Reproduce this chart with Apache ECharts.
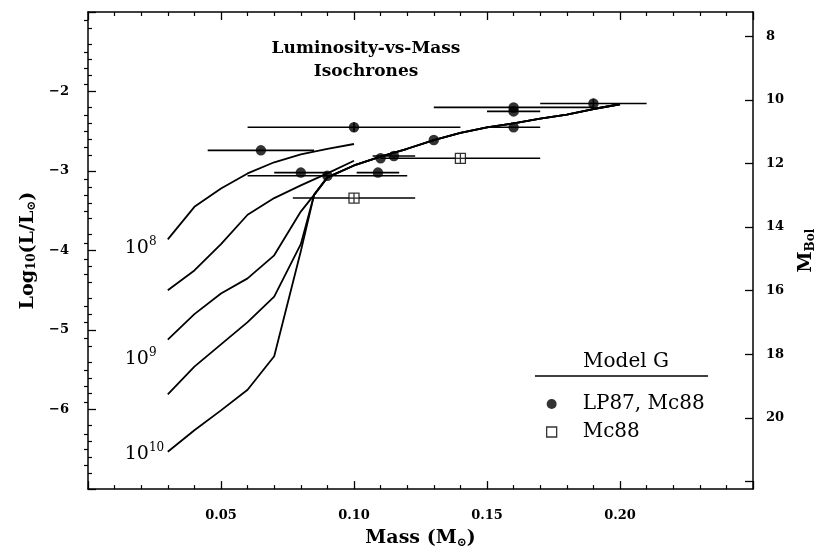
<!DOCTYPE html>
<html>
<head>
<meta charset="utf-8">
<script src="https://cdn.jsdelivr.net/npm/echarts@6/dist/echarts.min.js"></script>
<style>
  html, body { margin: 0; padding: 0; background: #ffffff; }
  #chart { width: 825px; height: 554px; }
</style>
</head>
<body>
<div id="chart"></div>
<script>
// ---- Isochrones: stellar mass (M_sun) vs log10(L/L_sun) ----
const iso1e8Mass = [0.03, 0.04, 0.05, 0.06, 0.07, 0.08, 0.09, 0.10];
const iso1e8Lum  = [-3.86, -3.45, -3.22, -3.03, -2.89, -2.79, -2.72, -2.66];

const iso3e8Mass = [0.03, 0.04, 0.05, 0.06, 0.07, 0.08, 0.09, 0.10];
const iso3e8Lum  = [-4.50, -4.25, -3.92, -3.55, -3.34, -3.18, -3.03, -2.87];

const iso1e9Mass = [0.03, 0.04, 0.05, 0.06, 0.07, 0.08];
const iso1e9Lum  = [-5.12, -4.80, -4.54, -4.35, -4.06, -3.51];

const iso3e9Mass = [0.03, 0.04, 0.05, 0.06, 0.07, 0.08];
const iso3e9Lum  = [-5.81, -5.46, -5.18, -4.90, -4.58, -3.92];

const iso1e10Mass = [0.03, 0.04, 0.05, 0.06, 0.07, 0.08];
const iso1e10Lum  = [-6.53, -6.26, -6.01, -5.75, -5.33, -4.01];

// common upper branch shared by the older isochrones
const branchMass = [0.085, 0.09, 0.10, 0.11, 0.12, 0.13, 0.14, 0.15, 0.16, 0.17, 0.18, 0.19, 0.20];
const branchLum  = [-3.30, -3.08, -2.93, -2.82, -2.72, -2.61, -2.52, -2.45, -2.40, -2.34, -2.29, -2.22, -2.16];

// ---- Observed objects ----
// LP87, Mc88 (filled circles)
const lpMass    = [0.065, 0.10, 0.08, 0.09, 0.109, 0.11, 0.115, 0.13, 0.16, 0.16, 0.16, 0.19];
const lpLum     = [-2.74, -2.45, -3.02, -3.06, -3.02, -2.84, -2.81, -2.61, -2.45, -2.20, -2.25, -2.15];
const lpMassErr = [0.02, 0.04, 0.01, 0.03, 0.008, 0, 0.008, 0, 0.01, 0.03, 0.01, 0.02];
const lpLumErr  = [0, 0.06, 0, 0, 0, 0, 0, 0, 0, 0, 0, 0.06];
// Mc88 (open squares)
const mcMass    = [0.10, 0.14];
const mcLum     = [-3.34, -2.84];
const mcMassErr = [0.023, 0.03];
const mcLumErr  = [0, 0];

// ---- Axis ticks ----
const massTicks = [0.05, 0.10, 0.15, 0.20];
const lumTicks  = [-2, -3, -4, -5, -6];
const mbolLabels = [8, 10, 12, 14, 16, 18, 20];
const mbolMajorTicks = [8, 10, 12, 14, 16, 18, 20, 22];
const MBOL_SUN = 4.74;   // M_bol = 4.74 - 2.5 log10(L/L_sun)

const SERIF = 'DejaVu Serif';
const INK = '#000000';

function zip(a, b) { return a.map((v, i) => [v, b[i]]); }
function zip4(a, b, c, d) { return a.map((v, i) => [v, b[i], c[i], d[i]]); }

// half-magnitude minor ticks on the M_bol scale (skip the even majors)
const mbolMinorTicks = [];
for (let k = 15; k <= 44; k++) {
  const v = k / 2;
  if (v % 2 !== 0) mbolMinorTicks.push(v);
}

const lumMin = -7, lumMax = -1;

const curveLabelRich = {
  n: { fontFamily: SERIF, fontSize: 19, color: INK, verticalAlign: 'bottom', lineHeight: 22 },
  p: { fontFamily: SERIF, fontSize: 12, color: INK, verticalAlign: 'top', lineHeight: 12 }
};

function isoSeries(name, mass, lum, labelText, labelOffsetY) {
  const data = zip(mass, lum);
  if (labelText) {
    // age label placed just left of the low-mass end of the track
    data[0] = {
      value: data[0],
      symbol: 'circle',
      symbolSize: 0.1,
      label: {
        show: true,
        position: 'left',
        distance: 43,
        align: 'left',
        verticalAlign: 'middle',
        offset: [0, labelOffsetY],
        formatter: labelText,
        rich: curveLabelRich
      }
    };
  }
  return {
    name: name,
    type: 'line',
    xAxisIndex: 0,
    yAxisIndex: 0,
    data: data,
    showSymbol: true,
    symbol: 'none',
    smooth: false,
    silent: true,
    itemStyle: { color: INK },
    lineStyle: { color: INK, width: 1.8 },
    z: 2
  };
}

function errorBarRender(params, api) {
  const m = api.value(0), L = api.value(1), ex = api.value(2), ey = api.value(3);
  const kids = [];
  if (ex > 0) {
    const a = api.coord([m - ex, L]);
    const b = api.coord([m + ex, L]);
    kids.push({ type: 'line', shape: { x1: a[0], y1: a[1], x2: b[0], y2: b[1] },
                style: { stroke: INK, lineWidth: 1.6 } });
  }
  if (ey > 0) {
    const a = api.coord([m, L - ey]);
    const b = api.coord([m, L + ey]);
    kids.push({ type: 'line', shape: { x1: a[0], y1: a[1], x2: b[0], y2: b[1] },
                style: { stroke: INK, lineWidth: 1.6 } });
  }
  return { type: 'group', children: kids };
}

const axisLineStyle = { color: INK, width: 1.5 };
const nameRich = {
  b: { fontFamily: SERIF, fontSize: 19, fontWeight: 'bold', color: INK, verticalAlign: 'top', lineHeight: 20 },
  s: { fontFamily: SERIF, fontSize: 12, fontWeight: 'bold', color: INK, verticalAlign: 'bottom', lineHeight: 12, padding: [10, 0, 0, 0] }
};
const tickFont = { fontFamily: SERIF, fontSize: 13, fontWeight: 'bold', color: INK };

function massAxis(position, showLabels) {
  return {
    type: 'value',
    position: position,
    min: 0,
    max: 0.25,
    interval: 0.05,
    axisLine: { show: true, onZero: false, lineStyle: axisLineStyle },
    axisTick: { show: true, inside: true, length: 8, lineStyle: { color: INK, width: 1.3 } },
    minorTick: { show: true, splitNumber: 5, length: 4, lineStyle: { color: INK, width: 1.2 } },
    splitLine: { show: false },
    minorSplitLine: { show: false },
    axisLabel: {
      show: showLabels,
      margin: 20,
      ...tickFont,
      formatter: v => massTicks.some(t => Math.abs(t - v) < 1e-6) ? v.toFixed(2) : ''
    },
    name: showLabels ? '{b|Mass (M}{s|\u2299}{b|)}' : '',
    nameLocation: 'middle',
    nameGap: 35,
    nameTextStyle: { rich: nameRich }
  };
}

const option = {
  animation: false,
  backgroundColor: '#ffffff',
  grid: { left: 88, right: 66, top: 12, bottom: 56, containLabel: false },
  xAxis: [massAxis('bottom', true), massAxis('top', false)],
  yAxis: [
    {
      type: 'value',
      position: 'left',
      min: lumMin,
      max: lumMax,
      interval: 1,
      axisLine: { show: true, onZero: false, lineStyle: axisLineStyle },
      axisTick: { show: true, inside: true, length: 8, lineStyle: { color: INK, width: 1.3 } },
      minorTick: { show: true, splitNumber: 5, length: 4, lineStyle: { color: INK, width: 1.2 } },
      splitLine: { show: false },
      minorSplitLine: { show: false },
      axisLabel: {
        margin: 19,
        ...tickFont,
        formatter: v => lumTicks.indexOf(Math.round(v)) >= 0 && Math.abs(v - Math.round(v)) < 1e-6
          ? '\u2212' + Math.abs(v) : ''
      },
      name: '{b|Log}{s|10}{b|(L/L}{s|\u2299}{b|)}',
      nameLocation: 'middle',
      nameRotate: 90,
      nameGap: 34,
      nameTextStyle: { rich: nameRich }
    },
    {
      // bolometric magnitude scale, same vertical extent as the luminosity axis
      type: 'value',
      position: 'right',
      inverse: true,
      min: MBOL_SUN - 2.5 * lumMax,
      max: MBOL_SUN - 2.5 * lumMin,
      axisLine: { show: true, onZero: false, lineStyle: axisLineStyle },
      axisTick: { show: true, inside: true, length: 8, customValues: mbolMajorTicks,
                  lineStyle: { color: INK, width: 1.3 } },
      splitLine: { show: false },
      axisLabel: { margin: 13, ...tickFont, customValues: mbolLabels, formatter: v => String(v) },
      name: '{b|M}{s|Bol}',
      nameLocation: 'middle',
      nameRotate: 90,
      nameGap: 36,
      nameTextStyle: { rich: nameRich }
    },
    {
      type: 'value',
      position: 'right',
      inverse: true,
      min: MBOL_SUN - 2.5 * lumMax,
      max: MBOL_SUN - 2.5 * lumMin,
      axisLine: { show: false },
      axisTick: { show: true, inside: true, length: 4, customValues: mbolMinorTicks,
                  lineStyle: { color: INK, width: 1.2 } },
      splitLine: { show: false },
      axisLabel: { show: false }
    }
  ],
  legend: {
    orient: 'vertical',
    left: 541,
    top: 389,
    itemWidth: 10,
    itemHeight: 10,
    itemGap: 8,
    selectedMode: false,
    textStyle: { fontFamily: SERIF, fontSize: 20, color: INK, lineHeight: 20, padding: [0, 0, 0, 21] },
    data: [
      { name: 'LP87, Mc88', icon: 'circle', itemStyle: { color: INK, borderWidth: 0 } },
      { name: 'Mc88', icon: 'rect', itemStyle: { color: '#ffffff', borderColor: INK, borderWidth: 1.3 } }
    ]
  },
  graphic: [
    {
      type: 'text',
      x: 366,
      y: 49,
      style: {
        text: 'Luminosity-vs-Mass',
        align: 'center',
        verticalAlign: 'middle',
        fontFamily: SERIF,
        fontSize: 17,
        fontWeight: 'bold',
        fill: INK
      }
    },
    {
      type: 'text',
      x: 366,
      y: 72,
      style: {
        text: 'Isochrones',
        align: 'center',
        verticalAlign: 'middle',
        fontFamily: SERIF,
        fontSize: 17,
        fontWeight: 'bold',
        fill: INK
      }
    },
    {
      type: 'text',
      x: 626,
      y: 362,
      style: { text: 'Model G', align: 'center', verticalAlign: 'middle',
               fontFamily: SERIF, fontSize: 20, fill: INK }
    },
    {
      type: 'line',
      shape: { x1: 535, y1: 376, x2: 708, y2: 376 },
      style: { stroke: INK, lineWidth: 1.5 }
    }
  ],
  series: [
    isoSeries('iso 1e8', iso1e8Mass, iso1e8Lum, '{n|10}{p|8}', 7),
    isoSeries('iso 3e8', iso3e8Mass, iso3e8Lum, null, 0),
    isoSeries('iso 1e9', iso1e9Mass.concat(branchMass), iso1e9Lum.concat(branchLum), '{n|10}{p|9}', 18),
    isoSeries('iso 3e9', iso3e9Mass.concat(branchMass), iso3e9Lum.concat(branchLum), null, 0),
    isoSeries('iso 1e10', iso1e10Mass.concat(branchMass), iso1e10Lum.concat(branchLum), '{n|10}{p|10}', 1),
    {
      name: 'LP87 err',
      type: 'custom',
      xAxisIndex: 0,
      yAxisIndex: 0,
      silent: true,
      renderItem: errorBarRender,
      data: zip4(lpMass, lpLum, lpMassErr, lpLumErr),
      z: 3
    },
    {
      name: 'Mc88 err',
      type: 'custom',
      xAxisIndex: 0,
      yAxisIndex: 0,
      silent: true,
      renderItem: errorBarRender,
      data: zip4(mcMass, mcLum, mcMassErr, mcLumErr),
      z: 3
    },
    {
      name: 'LP87, Mc88',
      type: 'scatter',
      xAxisIndex: 0,
      yAxisIndex: 0,
      symbol: 'circle',
      symbolSize: 10.5,
      itemStyle: { color: INK },
      data: zip(lpMass, lpLum),
      z: 4
    },
    {
      name: 'Mc88',
      type: 'scatter',
      xAxisIndex: 0,
      yAxisIndex: 0,
      symbol: 'path://M0 0H10V10H0ZM5 0V10M0 5H10',
      symbolSize: 10,
      itemStyle: { color: '#ffffff', borderColor: INK, borderWidth: 1.3 },
      data: zip(mcMass, mcLum),
      z: 4
    }
  ]
};

const chart = echarts.init(document.getElementById('chart'), null, { renderer: 'canvas' });
chart.setOption(option);
</script>
</body>
</html>
